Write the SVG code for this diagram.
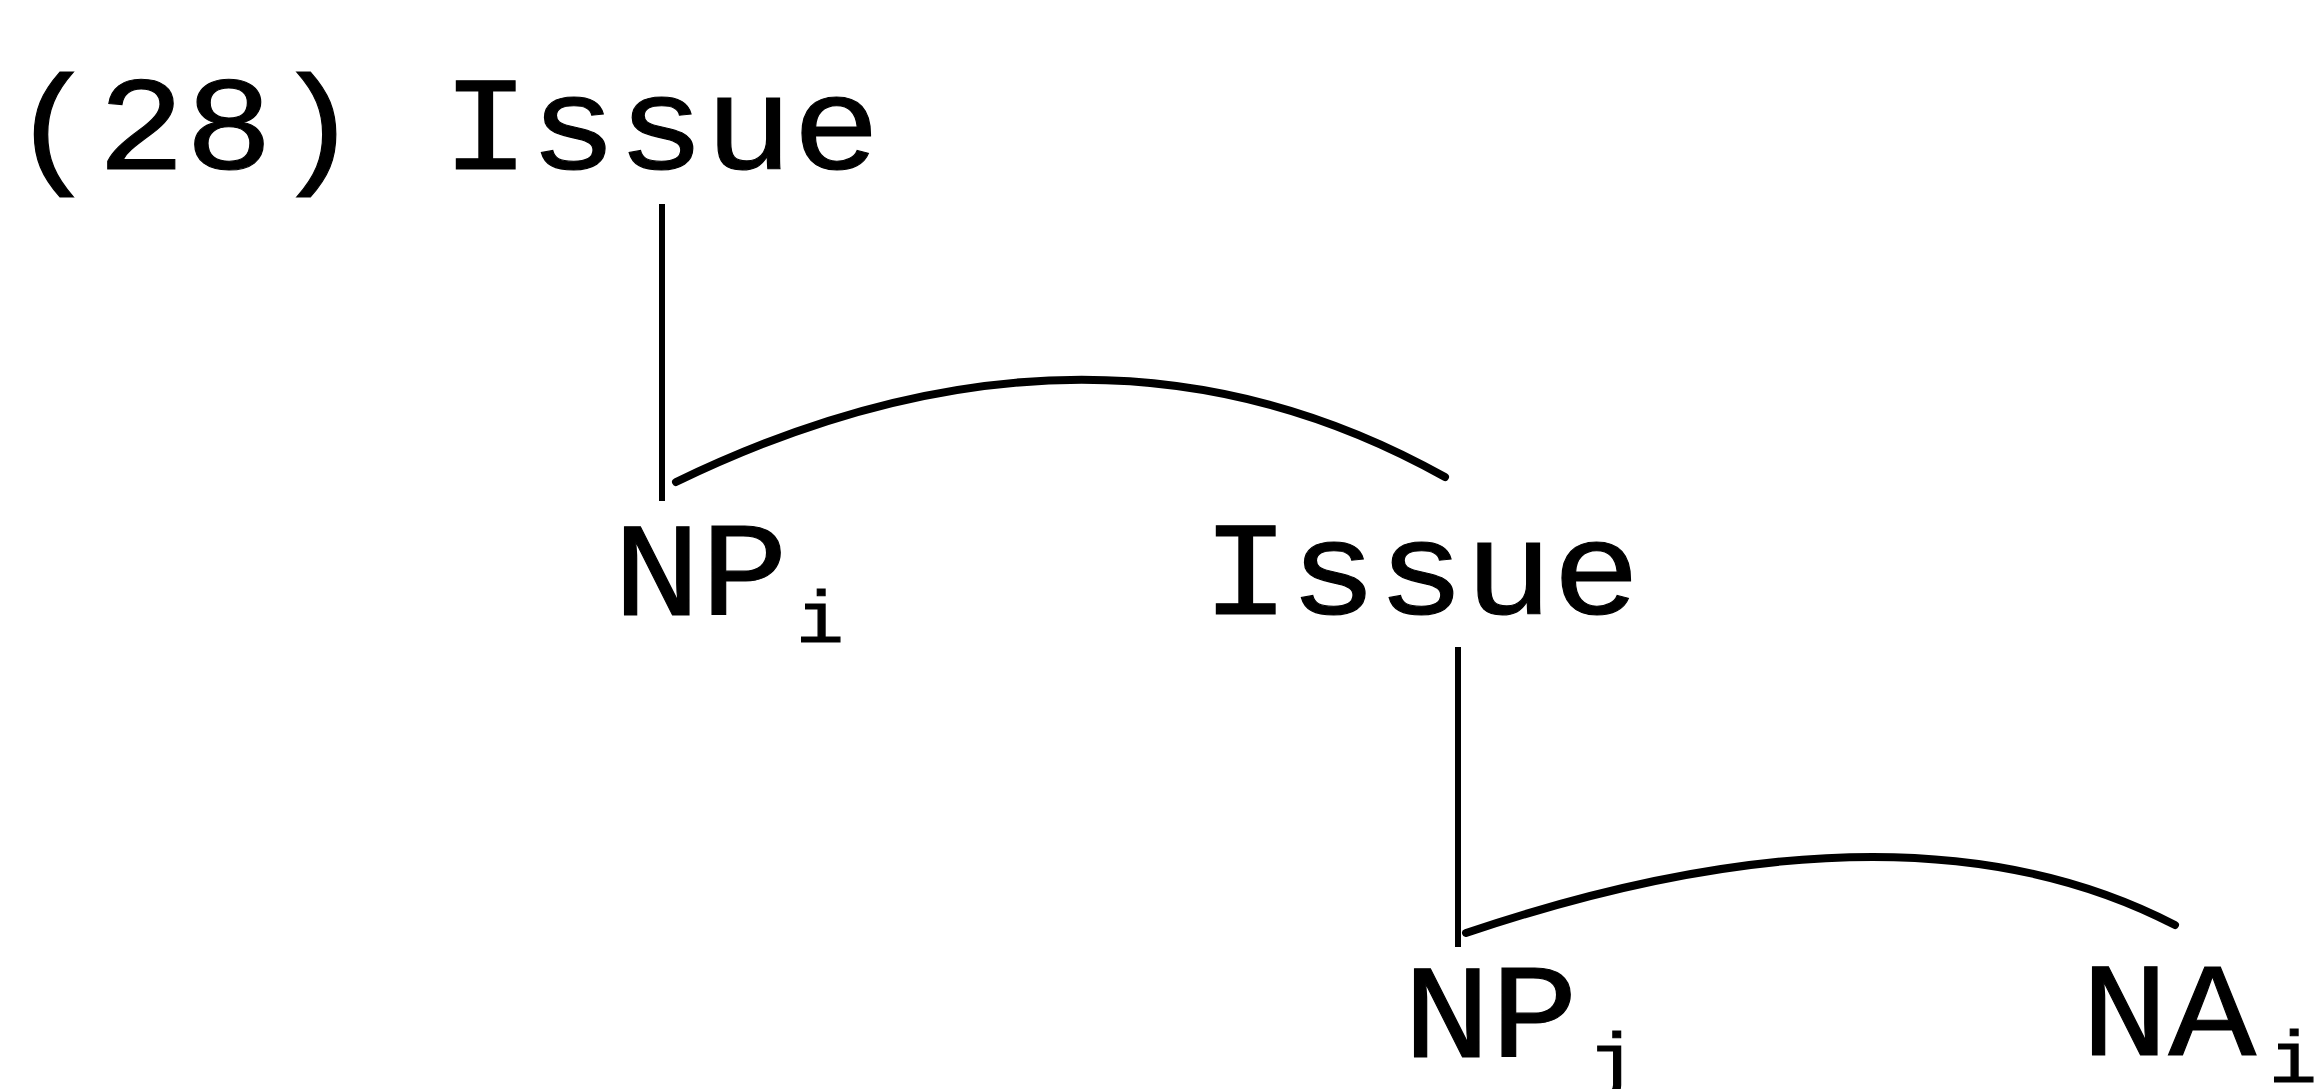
<svg xmlns="http://www.w3.org/2000/svg" width="2322" height="1089" viewBox="0 0 2322 1089">
<style>
.t{font-family:"Liberation Mono","Courier New",monospace;font-size:146px;fill:#000;stroke:#000;stroke-width:1.2}
.s{font-size:80px}
.ln{stroke:#000;stroke-width:6;fill:none}
.arc{stroke:#000;stroke-width:8;fill:none;stroke-linecap:round}
</style>
<rect width="2322" height="1089" fill="#fff"/>
<text class="t" transform="translate(10,169) scale(1,0.91)">(28)</text>
<g id="issue1"><text class="t" transform="translate(442,169) scale(1,0.91)">Issue</text></g>
<g id="npi"><text class="t" transform="translate(613,615) scale(1,0.91)">NP<tspan class="s" x="183" y="30">i</tspan></text></g>
<g id="issue2"><text class="t" transform="translate(1202,614) scale(1,0.91)">Issue</text></g>
<g id="npj"><text class="t" transform="translate(1403,1057) scale(1,0.91)">NP<tspan class="s" x="185" y="30">j</tspan></text></g>
<g id="nai"><text class="t" transform="translate(2081,1055) scale(1,0.91)">NA<tspan class="s" x="188" y="30">i</tspan></text></g>
<g id="connectors">
<line class="ln" x1="662" y1="204" x2="662" y2="501"/>
<path class="arc" d="M676,482 Q1093,280 1445,477"/>
<line class="ln" x1="1458" y1="647" x2="1458" y2="947"/>
<path class="arc" d="M1466,933 Q1905,785 2175,925"/>
</g>
</svg>
